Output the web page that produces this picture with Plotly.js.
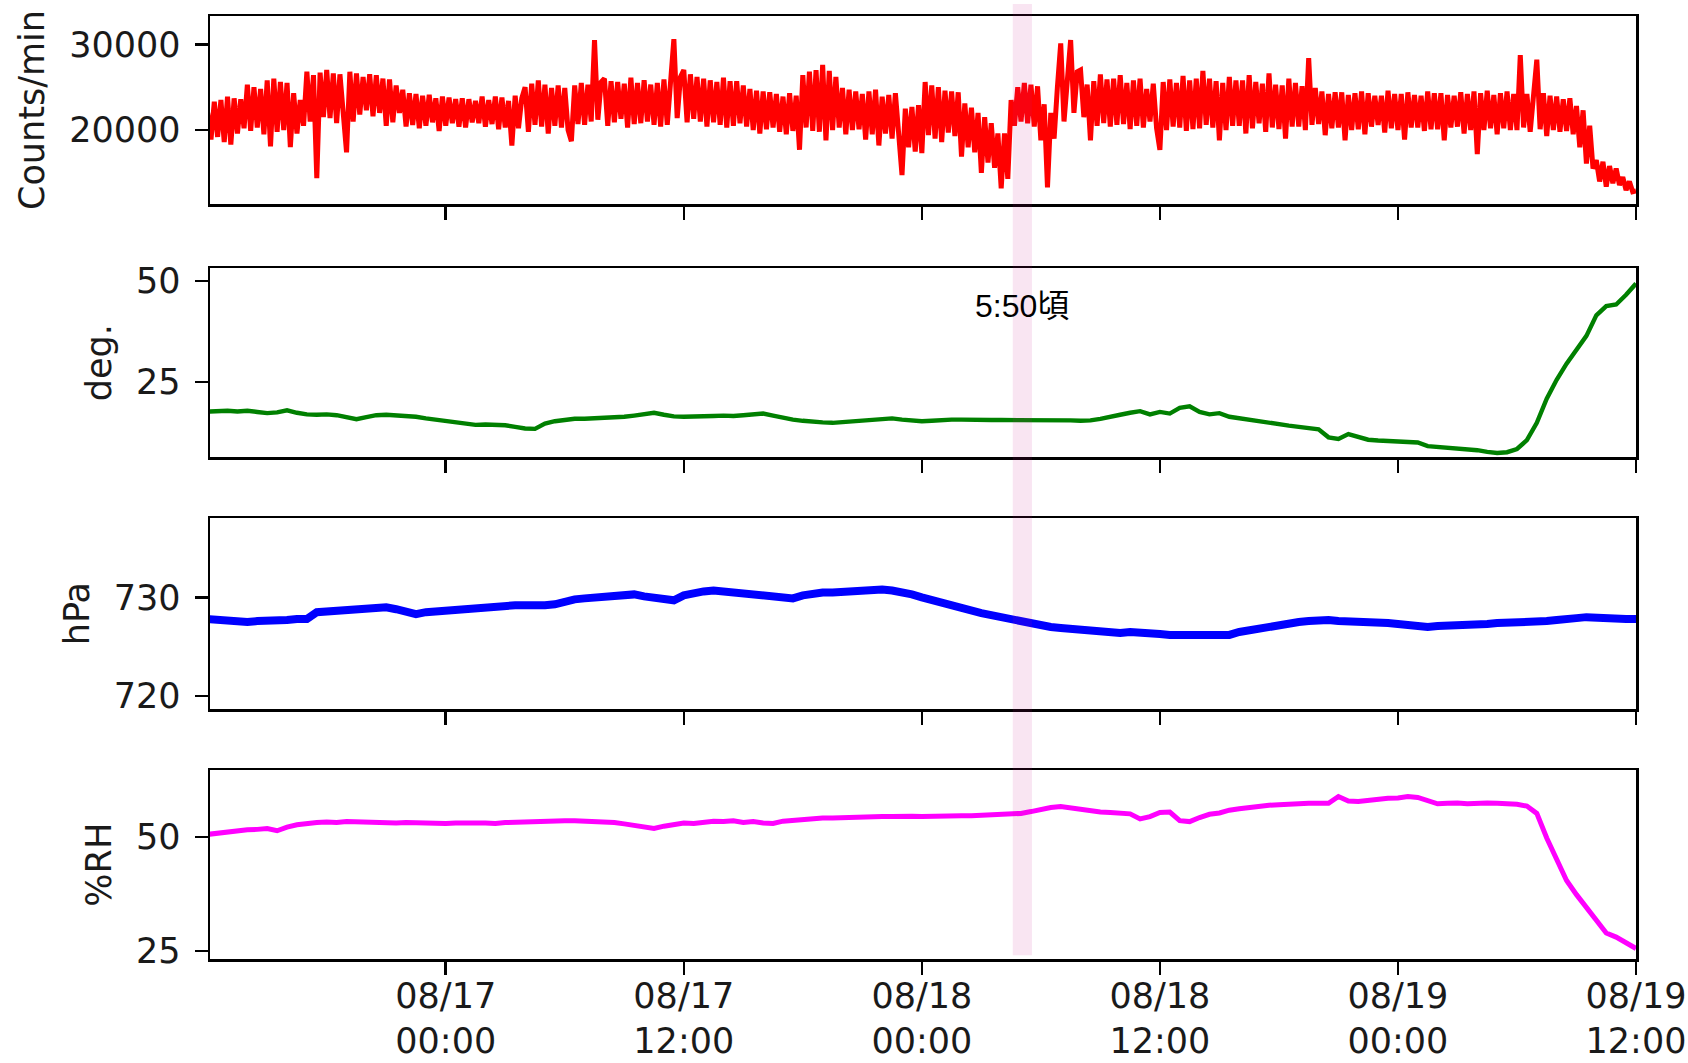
<!DOCTYPE html>
<html>
<head>
<meta charset="utf-8">
<script src="https://cdn.plot.ly/plotly-3.0.1.min.js"></script>
<style>
html,body{margin:0;padding:0;background:#fff}
#chart{width:1688px;height:1063px}
</style>
</head>
<body>
<div id="chart"></div>
<script>
// ---- sampling grid (UTC) ----
const seriesStartUTC = [2019, 7, 16, 12, 0];   // 2019-08-16 12:00
const countsStepMin = 10;
const envStepMin = 30;

// ---- data ----
const counts = [
  22000,18900,23300,19200,23500,18600,
  23900,18300,23700,19600,23600,20200,
  25300,19900,25000,20300,24800,19500,
  25800,18100,26000,19800,25600,20000,
  25500,18000,24300,19600,23500,20500,
  26800,21000,26400,14400,26700,21500,
  27000,21400,26600,20800,26500,21300,
  17400,26800,21000,26600,21800,26200,
  22300,26500,21600,26400,22000,26000,
  20500,25900,20900,25200,22000,24700,
  20400,24300,20600,24200,20200,24000,
  20500,24100,20900,23700,19900,23900,
  20500,23800,20800,23600,20400,23700,
  20300,23600,20900,23400,20800,23900,
  20400,23500,20700,23900,20100,23800,
  20300,23400,18200,24000,20200,23700,
  25000,19800,25400,20600,25800,20400,
  25300,19600,24900,20500,25200,20300,
  24900,20000,18700,25200,20700,25500,
  20600,25300,21000,30500,21200,25600,
  26000,20500,25700,20900,25600,21300,
  25400,20300,26100,20700,25500,20800,
  25800,21000,25300,20600,25500,20400,
  25900,20600,25400,30600,21400,26200,
  27000,20900,26500,21300,26200,21000,
  26000,20400,25800,20900,25600,20600,
  26100,20300,25700,20500,25700,20800,
  25200,20400,24800,20000,24600,19600,
  24500,20100,24400,20300,24200,19800,
  23900,19500,24300,19900,24000,17700,
  26400,20300,26800,19900,27000,19800,
  27600,18800,26900,20000,26200,20300,
  24900,19500,24700,20000,24500,20100,
  24200,18900,24500,19500,24700,18200,
  23900,19600,24100,19000,24300,18800,
  14750,22500,18000,22700,17500,22900,
  17300,25600,19400,25200,19000,25000,
  18600,24600,19700,24500,19300,24400,
  16900,23100,18000,22600,17400,22000,
  15000,21500,16200,20800,15600,19600,
  13200,19600,14300,23500,20500,25000,
  21000,25500,20800,25300,20400,25100,
  18800,23000,13300,22000,19000,25000,
  30100,21000,25600,30500,22000,26800,
  27000,21500,25300,18800,25700,20500,
  26500,20800,25900,20400,26000,20600,
  26400,20700,25500,20100,25800,20500,
  26000,20300,24800,21000,25400,20200,
  17700,25600,20000,25900,20400,25500,
  20300,26300,19900,25800,20100,26000,
  20200,26900,20600,26000,20300,25700,
  18800,25500,20000,26200,20500,25800,
  20500,25800,19600,26400,20200,25600,
  20800,25400,19800,26600,20300,25300,
  20100,25200,19000,26000,20400,25500,
  20400,25100,20000,28400,20600,24900,
  20700,24500,19400,24200,20200,24400,
  20300,24400,18800,24100,20000,24300,
  20100,24500,19500,24300,20400,24000,
  20600,24000,19700,24600,20200,24200,
  20000,24200,18900,24400,20300,24100,
  20300,24000,19900,24500,20100,24300,
  20100,24300,18800,24100,20300,24000,
  20400,24400,19600,24200,20000,24500,
  17200,24300,20000,24600,20200,24100,
  19500,24300,20200,24500,20000,24200,
  20000,28750,20300,24200,19800,24400,
  28200,20100,24300,19300,24000,20000,
  23900,19800,23600,19900,23700,19500,
  22800,18000,22300,16100,20500,15500,
  16500,14000,16300,13400,15800,13800,
  15500,13600,14500,13000,14000,12800,
  12900
];
const temperature = [
  17.6,17.7,17.8,17.6,17.8,17.5,17.2,17.4,17.9,17.3,
  16.9,16.8,16.9,16.7,16.2,15.7,16.2,16.7,16.8,16.7,
  16.5,16.3,15.9,15.6,15.2,14.9,14.6,14.3,14.4,14.3,
  14.2,13.8,13.4,13.3,14.6,15.2,15.6,15.8,15.8,15.9,
  16.0,16.1,16.3,16.6,16.9,17.3,16.8,16.4,16.3,16.3,
  16.4,16.5,16.6,16.5,16.7,16.8,17.1,16.6,16.0,15.6,
  15.3,15.0,14.9,14.8,15.0,15.3,15.5,15.7,15.9,15.9,
  15.6,15.4,15.2,15.3,15.5,15.6,15.6,15.5,15.4,15.5,
  15.5,15.5,15.4,15.5,15.6,15.6,15.5,15.4,15.3,15.4,
  15.8,16.4,16.8,17.3,17.7,16.9,17.5,17.1,18.5,18.9,
  17.5,16.9,17.2,16.3,15.9,15.6,15.2,14.8,14.4,14.1,
  13.8,13.6,13.2,11.2,10.8,12.0,11.3,10.6,10.4,10.3,
  10.2,10.1,9.9,9.0,8.8,8.7,8.4,8.2,8.0,7.6,
  7.3,7.5,8.3,10.5,14.8,20.8,25.5,29.5,32.8,36.4,
  41.5,43.8,44.2,46.6,49.4
];
const pressure = [
  727.8,727.7,727.6,727.5,727.5,727.6,727.6,727.5,727.7,727.8,
  727.8,728.5,728.6,728.7,728.8,728.9,728.9,729.0,729.0,728.8,
  728.6,728.3,728.5,728.6,728.6,728.7,728.9,729.0,729.1,729.1,
  729.2,729.2,729.2,729.1,729.2,729.3,729.6,729.8,729.9,730.0,
  730.0,730.1,730.2,730.3,730.1,729.9,729.8,729.7,730.2,730.5,
  730.6,730.7,730.6,730.5,730.4,730.3,730.2,730.0,730.0,729.9,
  730.2,730.4,730.5,730.5,730.6,730.6,730.7,730.8,730.8,730.7,
  730.6,730.3,730.0,729.7,729.4,729.1,728.8,728.6,728.4,728.2,
  728.0,727.6,727.4,727.3,727.1,727.0,726.9,726.8,726.7,726.7,
  726.4,726.3,726.4,726.5,726.5,726.4,726.3,726.2,726.2,726.2,
  726.2,726.3,726.3,726.2,726.5,726.7,726.8,727.0,727.1,727.3,
  727.5,727.6,727.7,727.7,727.6,727.6,727.5,727.5,727.4,727.4,
  727.3,727.2,727.0,727.0,727.1,727.1,727.2,727.3,727.3,727.3,
  727.4,727.4,727.5,727.5,727.6,727.6,727.7,727.7,727.9,728.0,
  727.9,727.9,727.9,727.8,727.8
];
const humidity = [
  50.6,50.9,51.1,51.4,51.6,51.7,51.9,51.4,52.2,52.7,
  53.0,53.2,53.3,53.2,53.4,53.3,53.2,53.3,53.2,53.1,
  53.2,53.1,53.0,53.1,53.0,53.1,53.0,53.1,53.1,53.0,
  53.2,53.3,53.4,53.5,53.6,53.5,53.6,53.6,53.5,53.3,
  53.4,53.2,52.9,52.5,52.2,51.9,52.4,52.8,53.1,53.0,
  53.3,53.5,53.4,53.6,53.2,53.4,53.1,53.0,53.5,53.7,
  53.9,54.1,54.2,54.2,54.3,54.3,54.4,54.4,54.5,54.5,
  54.6,54.6,54.5,54.6,54.7,54.7,54.7,54.7,54.8,54.9,
  55.0,55.0,55.2,55.6,56.1,56.5,56.7,56.4,56.0,55.7,
  55.5,55.4,55.2,55.1,54.0,54.5,55.4,55.5,53.6,53.4,
  54.3,55.0,55.3,55.9,56.2,56.5,56.8,57.0,57.1,57.3,
  57.3,57.4,57.5,57.4,58.9,57.9,57.8,58.1,58.3,58.5,
  58.6,58.9,58.7,57.9,57.3,57.4,57.5,57.3,57.5,57.5,
  57.4,57.3,57.2,56.8,55.2,49.8,45.0,40.5,37.4,34.5,
  31.5,29.0,28.1,26.8,25.6
];

const xRange = ['2019-08-16 12:07', '2019-08-19 12:00'];
const xTickVals = ['2019-08-17 00:00','2019-08-17 12:00','2019-08-18 00:00','2019-08-18 12:00','2019-08-19 00:00','2019-08-19 12:00'];
const xTickText = ['08/17<br>00:00','08/17<br>12:00','08/18<br>00:00','08/18<br>12:00','08/19<br>00:00','08/19<br>12:00'];
const yTitles = ['Counts/min', 'deg.', 'hPa', '%RH'];
const yRanges = [[11370, 33300], [6.3, 53.2], [718.7, 738.0], [23.3, 64.6]];
const yDticks = [10000, 25, 10, 25];
const lineColors = ['#ff0000', '#008000', '#0000ff', '#ff00ff'];
const eventStart = '2019-08-18 04:35';
const eventEnd = '2019-08-18 05:33';
const eventMid = '2019-08-18 05:03';
const eventLabel = '5:50頃';

// ---- build ----
function timeGrid(n, stepMin) {
  const base = Date.UTC.apply(null, seriesStartUTC);
  const out = [];
  for (let i = 0; i < n; i++) out.push(base + i * stepMin * 60000);
  return out;
}

const FONT = 'DejaVu Sans, sans-serif';
const TXT = '#1a1a1a';
const series = [counts, temperature, pressure, humidity];
const steps = [countsStepMin, envStepMin, envStepMin, envStepMin];
const widths = [5, 4.4, 8, 5];

const traces = series.map((vals, i) => ({
  type: 'scatter', mode: 'lines',
  x: timeGrid(vals.length, steps[i]), y: vals,
  xaxis: i === 0 ? 'x' : 'x' + (i + 1),
  yaxis: i === 0 ? 'y' : 'y' + (i + 1),
  line: {color: lineColors[i], width: widths[i]},
  hoverinfo: 'skip'
}));

const domains = [[0.8006, 1.0], [0.5323, 0.7325], [0.2651, 0.4673], [0.0, 0.1999]];

const layout = {
  width: 1688, height: 1063,
  margin: {l: 210, r: 52, t: 16, b: 104},
  paper_bgcolor: '#fff', plot_bgcolor: '#fff',
  showlegend: false,
  font: {family: FONT, size: 35, color: TXT},
  shapes: [{
    type: 'rect', xref: 'x', yref: 'paper',
    x0: eventStart, x1: eventEnd, y0: 0.004, y1: 1.0127,
    fillcolor: 'rgba(199,21,133,0.11)', line: {width: 0}, layer: 'above'
  }],
  annotations: [{
    xref: 'x', yref: 'paper', x: eventMid, y: 0.6925,
    text: eventLabel, showarrow: false, xanchor: 'center', yanchor: 'middle',
    font: {family: 'Liberation Sans, Noto Sans CJK JP, sans-serif', size: 32, color: '#000'}
  }]
};

for (let i = 0; i < 4; i++) {
  const xName = i === 0 ? 'xaxis' : 'xaxis' + (i + 1);
  const yName = i === 0 ? 'yaxis' : 'yaxis' + (i + 1);
  const yId = i === 0 ? 'y' : 'y' + (i + 1);
  layout[xName] = {
    type: 'date', range: xRange, anchor: yId,
    matches: i === 0 ? undefined : 'x',
    tickmode: 'array', tickvals: xTickVals, ticktext: xTickText,
    showticklabels: i === 3,
    ticklabelstandoff: -9,
    ticks: 'outside', ticklen: 13, tickwidth: 2.5, tickcolor: '#000',
    showline: true, linecolor: '#000', linewidth: 2.5, mirror: true,
    showgrid: false, zeroline: false, fixedrange: true,
    tickfont: {family: FONT, size: 35, color: TXT}
  };
  layout[yName] = {
    domain: domains[i], range: yRanges[i], anchor: i === 0 ? 'x' : 'x' + (i + 1),
    tickmode: 'linear', tick0: 0, dtick: yDticks[i], tickformat: 'd',
    ticks: 'outside', ticklen: 13, tickwidth: 2.5, tickcolor: '#000',
    showline: true, linecolor: '#000', linewidth: 2.5, mirror: true,
    showgrid: false, zeroline: false, fixedrange: true,
    tickfont: {family: FONT, size: 35, color: TXT},
    ticklabelstandoff: 7,
    title: {text: yTitles[i], font: {family: FONT, size: 35, color: TXT}, standoff: 14}
  };
}

Plotly.newPlot('chart', traces, layout, {displayModeBar: false, staticPlot: true});
</script>
</body>
</html>
